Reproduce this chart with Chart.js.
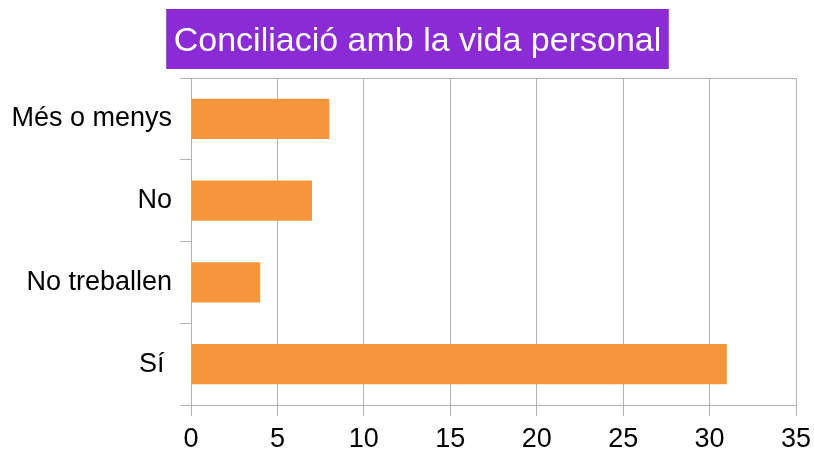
<!DOCTYPE html>
<html>
<head>
<meta charset="utf-8">
<script src="https://cdn.jsdelivr.net/npm/chart.js@4/dist/chart.umd.min.js"></script>
<style>
  html, body { margin: 0; padding: 0; background: #fff; }
  #wrap { width: 814px; height: 450px; }
</style>
</head>
<body>
<div id="wrap"><canvas id="chart" width="814" height="450"></canvas></div>
<script>
const chartTitle = 'Conciliació amb la vida personal';
const categories = ['Més o menys', 'No', 'No treballen', 'Sí '];
const responses = [8, 7, 4, 31];
const xTicks = [0, 5, 10, 15, 20, 25, 30, 35];

const gridGray = '#b3b3b3';
const fontFamily = '"Liberation Sans", Arial, sans-serif';

// title drawn as white text on a purple box
const titleBox = {
  id: 'titleBox',
  afterDraw(chart) {
    const ctx = chart.ctx;
    ctx.save();
    ctx.font = '34px ' + fontFamily;
    const w = ctx.measureText(chartTitle).width;
    const cx = 417.5;
    ctx.fillStyle = '#8a2bd6';
    ctx.fillRect(cx - w / 2 - 7.5, 9, w + 15, 60);
    ctx.fillStyle = '#ffffff';
    ctx.textAlign = 'center';
    ctx.textBaseline = 'alphabetic';
    ctx.fillText(chartTitle, cx, 51);
    ctx.restore();
  }
};

new Chart(document.getElementById('chart'), {
  type: 'bar',
  data: {
    labels: categories,
    datasets: [{
      data: responses,
      backgroundColor: '#f5963b',
      borderWidth: 0,
      categoryPercentage: 1,
      barPercentage: 0.49
    }]
  },
  options: {
    indexAxis: 'y',
    responsive: false,
    animation: false,
    layout: { padding: { top: 78, right: 18, left: 0, bottom: 0 } },
    plugins: {
      legend: { display: false },
      title: { display: false },
      tooltip: { enabled: false }
    },
    scales: {
      x: {
        min: 0,
        max: 35,
        afterBuildTicks: scale => {
          scale.ticks = xTicks.map(v => ({ value: v }));
        },
        afterFit: scale => {
          scale.height = 45;
          scale.paddingLeft = 0;
          scale.paddingRight = 0;
        },
        grid: { color: gridGray, lineWidth: 1, tickLength: 11, tickColor: gridGray },
        border: { color: gridGray },
        ticks: {
          color: '#000',
          padding: 7,
          maxRotation: 0,
          font: { family: fontFamily, size: 27 }
        }
      },
      y: {
        afterFit: scale => { scale.width = 191; },
        grid: {
          offset: true,
          tickLength: 11,
          tickColor: gridGray,
          color: ctx => (ctx.index === 0 ? gridGray : 'rgba(0,0,0,0)')
        },
        border: { color: gridGray },
        ticks: {
          color: '#000',
          padding: 8,
          font: { family: fontFamily, size: 27 }
        }
      }
    }
  },
  plugins: [titleBox]
});
</script>
</body>
</html>
